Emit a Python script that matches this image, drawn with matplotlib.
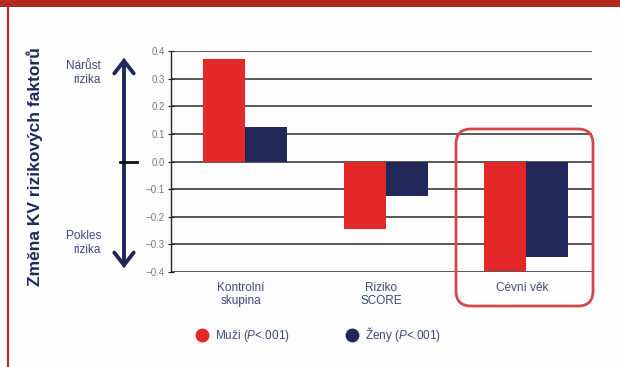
import matplotlib
matplotlib.use("Agg")
import matplotlib.pyplot as plt
import numpy as np
from matplotlib.patches import FancyArrowPatch, FancyBboxPatch, Rectangle
from matplotlib.lines import Line2D

plt.rcParams['font.family'] = ['Liberation Sans', 'DejaVu Sans']
plt.rcParams['mathtext.fontset'] = 'custom'
plt.rcParams['mathtext.it'] = 'Liberation Sans:italic'
plt.rcParams['mathtext.rm'] = 'Liberation Sans'

categories = ["Kontrolní\nskupina", "Riziko\nSCORE", "Cévní věk"]
muzi = [0.37, -0.245, -0.395]
zeny = [0.125, -0.125, -0.345]
series_labels = ["Muži ($\\it{P}$<.001)", "Ženy ($\\it{P}$<.001)"]
yticks = [0.4, 0.3, 0.2, 0.1, 0.0, -0.1, -0.2, -0.3, -0.4]
ytick_labels = ["0.4", "0.3", "0.2", "0.1", "0.0", "\u22120.1", "\u22120.2", "\u22120.3", "\u22120.4"]

RED = "#e4282a"
NAVY = "#1f2858"
TXT = "#3d4a7c"

W, H = 620, 367
fig = plt.figure(figsize=(W / 100, H / 100), dpi=100)
fig.patch.set_facecolor("#fdfdfd")

ax = fig.add_axes([171 / W, 1 - 272 / H, (592 - 171) / W, (272 - 51) / H])
ax.set_facecolor("none")

x = np.arange(len(categories))
bw = 0.3
ax.bar(x - bw / 2 + 0.03, muzi, bw, color=RED, zorder=3)
ax.bar(x + bw / 2 + 0.03, zeny, bw, color=NAVY, zorder=3)

ax.set_xlim(-0.5, len(categories) - 0.5)
ax.set_ylim(-0.4, 0.4)
ax.set_yticks(yticks)
ax.set_yticklabels(ytick_labels, fontsize=7, color="#7a7a7a")
ax.tick_params(axis='y', direction='inout', length=5, width=0.8, color="#222222", pad=2)
ax.yaxis.grid(True, color="#2a2a2a", linewidth=1.1, zorder=1)
ax.set_axisbelow(True)
for s in ["top", "right", "bottom"]:
    ax.spines[s].set_visible(False)
ax.spines["left"].set_color("#222222")
ax.spines["left"].set_linewidth(1.0)

ax.set_xticks(x)
ax.set_xticklabels(categories, fontsize=8.5, color=TXT, linespacing=1.1)
ax.tick_params(axis='x', length=0, pad=7)

# y-axis title
fig.text(35 / W, 1 - 167 / H, "Změna KV rizikových faktorů", rotation=90,
         ha='center', va='center', fontsize=12.5, fontweight='bold', color=NAVY)

# risk direction arrow
arr = FancyArrowPatch((124 / W, 1 - 271 / H), (124 / W, 1 - 55 / H),
                      transform=fig.transFigure,
                      arrowstyle='<->,head_length=0.45,head_width=0.35',
                      color=NAVY, linewidth=2.8, mutation_scale=20,
                      capstyle='round', joinstyle='miter')
fig.add_artist(arr)
fig.add_artist(Line2D([120 / W, 137 / W], [1 - 161.5 / H, 1 - 161.5 / H],
                      transform=fig.transFigure, color="#111111", linewidth=2))
fig.text(101 / W, 1 - 73 / H, "Nárůst\nrizika", ha='right', va='center',
         fontsize=8.5, color=TXT, linespacing=1.15)
fig.text(101 / W, 1 - 243 / H, "Pokles\nrizika", ha='right', va='center',
         fontsize=8.5, color=TXT, linespacing=1.15)

# highlight box
box = FancyBboxPatch((4.56, (H - 306) / 100), 1.37, 1.77,
                     boxstyle="round,pad=0,rounding_size=0.15",
                     transform=fig.dpi_scale_trans, fill=False,
                     edgecolor="#d5474d", linewidth=2)
fig.add_artist(box)

# legend
handles = [Line2D([], [], marker='o', linestyle='none', markersize=9, color=RED),
           Line2D([], [], marker='o', linestyle='none', markersize=9, color=NAVY)]
fig.legend(handles, series_labels, loc='center left',
           bbox_to_anchor=(180 / W, 1 - 335 / H), ncol=2, frameon=False,
           fontsize=8.5, handletextpad=0.05, columnspacing=4.3, labelcolor=TXT)

# top banner and left border
fig.add_artist(Rectangle((0, 1 - 7 / H), 1, 7 / H, transform=fig.transFigure,
                         color="#b02a22", linewidth=0))
fig.add_artist(Line2D([8 / W, 8 / W], [0, 1 - 7 / H], transform=fig.transFigure,
                      color="#c0241c", linewidth=1.5))

fig.savefig("out.png", dpi=100, facecolor=fig.get_facecolor())
